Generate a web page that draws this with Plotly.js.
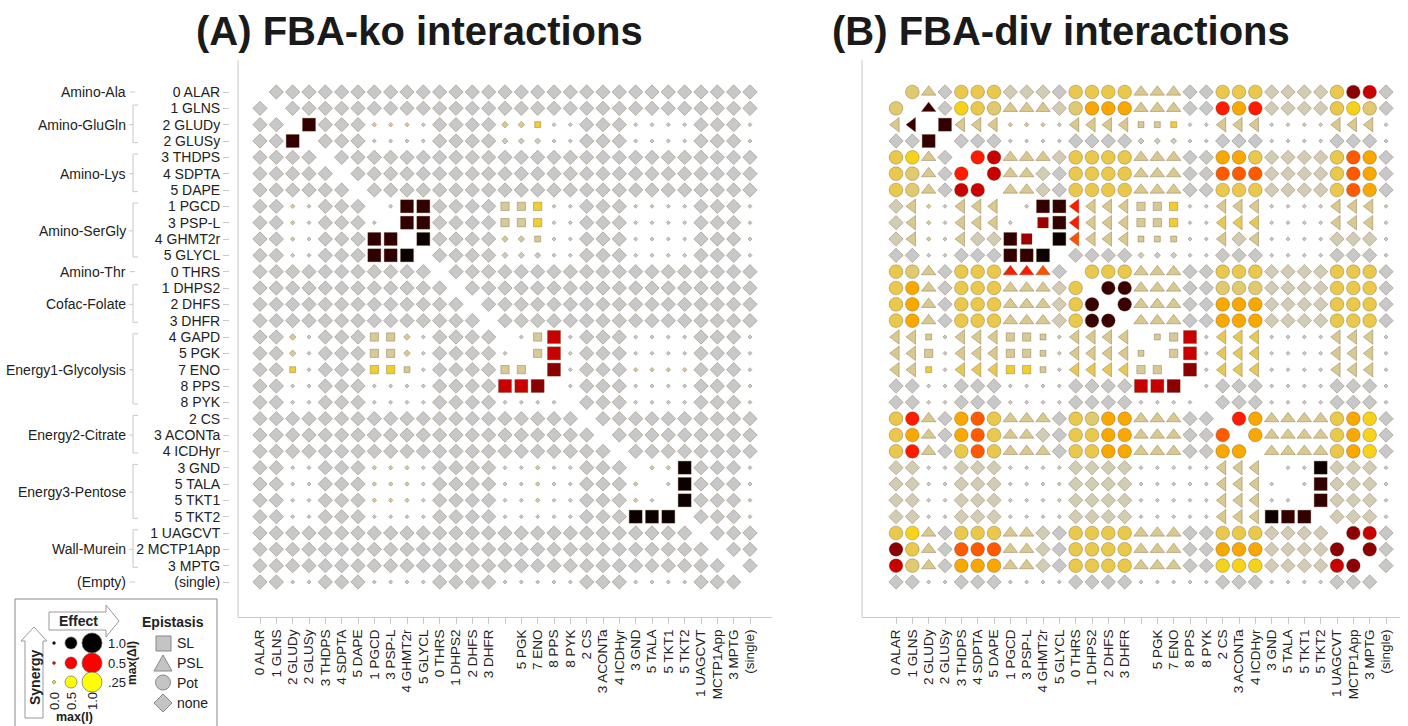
<!DOCTYPE html>
<html><head><meta charset="utf-8">
<script src="https://cdn.plot.ly/plotly-3.0.1.min.js"></script>
<style>html,body{margin:0;padding:0;background:#fff;} #chart{width:1408px;height:726px;}</style>
</head><body><div id="chart"></div>
<script>
// ---------- data ----------
const rowLabels = ['0 ALAR','1 GLNS','2 GLUDy','2 GLUSy','3 THDPS','4 SDPTA','5 DAPE','1 PGCD','3 PSP-L','4 GHMT2r','5 GLYCL','0 THRS','1 DHPS2','2 DHFS','3 DHFR','4 GAPD','5 PGK','7 ENO','8 PPS','8 PYK','2 CS','3 ACONTa','4 ICDHyr','3 GND','5 TALA','5 TKT1','5 TKT2','1 UAGCVT','2 MCTP1App','3 MPTG','(single)'];
const colLabels = ['0 ALAR','1 GLNS','2 GLUDy','2 GLUSy','3 THDPS','4 SDPTA','5 DAPE','1 PGCD','3 PSP-L','4 GHMT2r','5 GLYCL','0 THRS','1 DHPS2','2 DHFS','3 DHFR','','5 PGK','7 ENO','8 PPS','8 PYK','2 CS','3 ACONTa','4 ICDHyr','3 GND','5 TALA','5 TKT1','5 TKT2','1 UAGCVT','MCTP1App','3 MPTG','(single)'];
const groupNames = ['Amino-Ala','Amino-GluGln','Amino-Lys','Amino-SerGly','Amino-Thr','Cofac-Folate','Energy1-Glycolysis','Energy2-Citrate','Energy3-Pentose','Wall-Murein','(Empty)'];
const groupFirst = [0,1,4,7,11,12,15,20,23,27,30];
const groupLast  = [0,3,6,10,11,14,19,22,26,29,30];

// cell codes (one per column, spaces only separate column groups)
const gridKO = [
 "_ DDD DDD DDDD D DDD DDDDD DDD DDDD DDD D",
 "D _DD DDD DDDD D DDD DDDDD DDD DDDD DDD D",
 "D D_k DDD ooo. D DDD wwy.. DDD .... DDD .",
 "D Dk_ DDD .... D DDD vvv.. DDD .... DDD .",
 "D DDD _DD DDDD D DDD DDDDD DDD DDDD DDD D",
 "D DDD D_D DDDD D DDD DDDDD DDD DDDD DDD D",
 "D DDD DD_ DDDD D DDD DDDDD DDD DDDD DDD D",
 "D Do. DDD _.kk D DDD qqQ.. DDD .... DDD .",
 "D Do. DDD ._kk D DDD qqQ.. DDD .... DDD .",
 "D Do. DDD kk_K D DDD wws.. DDD .... DDD .",
 "D D.. DDD kkK_ D DDD vvv.. DDD .... DDD .",
 "D DDD DDD DDDD _ DDD DDDDD DDD DDDD DDD D",
 "D DDD DDD DDDD D _DD DDDDD DDD DDDD DDD D",
 "D DDD DDD DDDD D D_D DDDDD DDD DDDD DDD D",
 "D DDD DDD DDDD D DD_ DDDDD DDD DDDD DDD D",
 "D Dw. DDD qqw. D DDD _.qR. DDD .... DDD .",
 "D Dw. DDD qqw. D DDD ._qR. DDD .... DDD .",
 "D Dy. DDD QQs. D DDD qq_M. DDD oooo DDD .",
 "D D.. DDD .... D DDD RRM_. DDD .... DDD .",
 "D D.. DDD .... D DDD ...._ DDD .... DDD .",
 "D DDD DDD DDDD D DDD DDDDD _DD DDDD DDD D",
 "D DDD DDD DDDD D DDD DDDDD D_D DDDD DDD D",
 "D DDD DDD DDDD D DDD DDDDD DD_ DDDD DDD D",
 "D D.. DDD ooo. D DDD ..o.. DDD _ooK DDD .",
 "D D.. DDD ooo. D DDD ..o.. DDD o_.K DDD .",
 "D D.. DDD ooo. D DDD ..o.. DDD o._K DDD .",
 "D D.. DDD .... D DDD ..... DDD KKK_ DDD .",
 "D DDD DDD DDDD D DDD DDDDD DDD DDDD _DD D",
 "D DDD DDD DDDD D DDD DDDDD DDD DDDD D_D D",
 "D DDD DDD DDDD D DDD DDDDD DDD DDDD DD_ D",
 "D D.. DDD .... D DDD ..... DDD .... DDD _"
];
const gridDIV = [
 "_ cPD CCC TTTD C CCC PPPDD CCC TTTT CJH D",
 "c _XD YCc PPPT c OOO PPPDD rOr TTTT CYc D",
 "L Z_k LLL ooo. L LLL ssy.. LLL .... LLL .",
 "D Dk_ DDD .... D DDD vvv.. DDD .... DDD .",
 "C YPD _rH PPPT C CCC PPPDD OOC TTTT CFO D",
 "C cPD r_H PPTD C CCC PPPDD FFF TTTT CFO D",
 "C cPD HH_ PPTD C CCC PPPDD CCC TTTT CFO D",
 "T Lo. LLL _.kk E LLL qqQ.. LLL .... LLL .",
 "T Lo. LLL ._mk E LLL qqQ.. lll .... LLL .",
 "T Lo. LTT km_K e LLL sss.. LTL .... TTT .",
 "D D.. DDD kkK_ D DDD vvv.. DDD .... DDD .",
 "C cPD CCC AAaD _ CCC PPPDD CCC TTTT CCC D",
 "C OPD CCC PPPT C _BB PPPDD ccc TTTT CCC D",
 "C OPD CCC PPPT C B_B PPPDD OOO TTTT CCC D",
 "C OPD CCC PPPT C BB_ PPPDD OOO TTTT CCC D",
 "L Ls. LLL qqs. L LLL _sqR. lll .... LLL .",
 "L Lq. LLL qqs. L LLL s_qR. lll .... LLL .",
 "L Ly. lll QQs. l lll qq_M. lll .... LLL .",
 "D D.. DDD .... D DDD RRM_. DDD .... DDD .",
 "D D.. DDD .... D DDD ...._ DDD .... DDD .",
 "C rPD OFC PPPD C cOO PPPDD _rO PPPP COY D",
 "C OPD OFC PPTD C COO PPPDD F_O PPPP COY D",
 "C rPD CFC PPPD C COO PPPDD OO_ PPPP COY D",
 "T T.. TTT .... T TTT ..... LLL _..K TTT .",
 "T T.. TTT .... T TTT ..... LLL ._.k TTT .",
 "T T.. TTT .... T TTT ..... LLL .._k TTT .",
 "T T.. TTT .... T TTT ..... LLL Kkk_ TTT .",
 "C YPD CCC PPTD C CCC PPPDD CCC TTTT _JH D",
 "J CPD FFF PPTD C CCC PPPDD OOO TTTT J_J D",
 "H cPD OOO PPTD C CCC PPPDD YYY TTTT HJ_ D",
 "D D.. DDD .... D DDD ..... DDD .... DDD _"
];
// code -> epistasis class
const epistasisOf = {D:'none',T:'none','.':'none',o:'none',v:'none',w:'none',
  s:'SL',y:'SL',q:'SL',Q:'SL',K:'SL',k:'SL',M:'SL',m:'SL',R:'SL',
  P:'PSL',A:'PSL',a:'PSL',X:'PSL',L:'PSLr',l:'PSLr',E:'PSLr',e:'PSLr',Z:'PSLr',
  c:'Pot',C:'Pot',Y:'Pot',O:'Pot',F:'Pot',r:'Pot',H:'Pot',J:'Pot',B:'Pot'};
// code -> max(I)  (effect)
const effectOf = {D:1,T:1,'.':0,o:0.05,v:0.2,w:0.25,s:0.25,y:0.25,q:0.5,Q:0.5,m:0.75};
// code -> max(dI) (synergy)
const synergyOf = {D:0,'.':0,v:0.03,T:0.08,o:0.12,w:0.12,s:0.12,q:0.12,P:0.13,L:0.13,c:0.16,l:0.19,C:0.2,
  y:0.22,Q:0.23,Y:0.25,O:0.33,F:0.42,a:0.43,e:0.43,r:0.5,A:0.5,E:0.5,H:0.6,R:0.6,m:0.68,J:0.72,M:0.72,
  B:0.88,X:0.88,Z:0.88,k:0.9,K:1.0};

// ---------- scales ----------
const synergyScale = [[0,'#c8c8c8'],[0.08,'#d3ccb4'],[0.13,'#d9c98e'],[0.16,'#e0c96e'],[0.2,'#eac84c'],
  [0.25,'#f6d21a'],[0.33,'#f8a800'],[0.42,'#ff5a00'],[0.5,'#ff1a00'],[0.6,'#c80000'],[0.72,'#8b0000'],
  [0.88,'#3a0000'],[1,'#0d0000']];
const symbolOf = {none:'diamond',SL:'square',PSL:'triangle-up',PSLr:'triangle-left',Pot:'circle'};
const shapeFactor = {none:0.85,SL:1,PSL:0.97,PSLr:0.97,Pot:1.05};
function markerSize(cls, eff){ return (3.6 + 9.4*eff) * shapeFactor[cls]; }

function buildTrace(grid, xa){
  const x=[],y=[],sym=[],size=[],col=[];
  grid.forEach((row,i)=>{
    const cells=row.replace(/ /g,'');
    for(let j=0;j<cells.length;j++){
      const c=cells[j]; if(c==='_') continue;
      const cls=epistasisOf[c]; const eff=(c in effectOf)?effectOf[c]:1;
      x.push(j); y.push(i); sym.push(symbolOf[cls]); size.push(markerSize(cls,eff)); col.push(synergyOf[c]);
    }
  });
  return {type:'scatter',mode:'markers',x:x,y:y,xaxis:xa,yaxis:'y',hoverinfo:'skip',
    marker:{symbol:sym,size:size,color:col,cmin:0,cmax:1,colorscale:synergyScale,showscale:false,opacity:1,
      line:{width:0.8,color:'rgba(90,70,30,0.4)'}}};
}

// ---------- layout helpers ----------
const W=1408,H=726;
const px=v=>v/W, py=v=>1-v/H;
const idx=rowLabels.map((_,i)=>i);
const FONT='Liberation Sans, Arial, sans-serif';
const AX='#c8c8c8';

const xbase={tickmode:'array',tickvals:idx,ticktext:colLabels,tickangle:-90,showline:true,linecolor:AX,linewidth:1,
  ticks:'outside',ticklen:6,tickcolor:AX,showgrid:false,zeroline:false,anchor:'y',tickfont:{size:13.5,color:'#222'}};
const layout={width:W,height:H,margin:{l:0,r:0,t:0,b:0},paper_bgcolor:'#fff',plot_bgcolor:'#fff',showlegend:false,
  font:{family:FONT,color:'#222'},
  xaxis:Object.assign({},xbase,{domain:[px(238),px(772)],range:[-1.347,31.347]}),
  xaxis2:Object.assign({},xbase,{domain:[px(862),px(1400)],range:[-2.082,30.857]}),
  yaxis:{domain:[py(617),py(60)],range:[32.143,-1.959],anchor:'free',position:px(229),tickmode:'array',tickvals:idx,
    ticktext:rowLabels,ticks:'outside',ticklen:6,tickcolor:AX,showline:false,showgrid:false,zeroline:false,
    tickfont:{size:14,color:'#222'}},
  shapes:[],annotations:[]};

// panel frame lines
[238,862].forEach(x=>layout.shapes.push({type:'line',xref:'paper',yref:'paper',x0:px(x),x1:px(x),y0:py(60),y1:py(617),line:{color:AX,width:1}}));

// titles
layout.annotations.push({xref:'paper',yref:'paper',x:px(419),y:py(31),text:'(A) FBA-ko interactions',showarrow:false,
  font:{size:40,family:FONT,color:'#1a1a1a',weight:'bold'},xanchor:'center',yanchor:'middle'});
layout.annotations.push({xref:'paper',yref:'paper',x:px(1061),y:py(31),text:'(B) FBA-div interactions',showarrow:false,
  font:{size:40,family:FONT,color:'#1a1a1a',weight:'bold'},xanchor:'center',yanchor:'middle'});

// group headers with brackets
groupNames.forEach((g,k)=>{
  const a=groupFirst[k], b=groupLast[k], mid=(a+b)/2;
  layout.annotations.push({xref:'paper',yref:'y',x:px(128),y:mid,text:g,showarrow:false,xanchor:'right',yanchor:'middle',
    font:{size:14,color:'#222'}});
  if(a===b){
    layout.shapes.push({type:'line',xref:'paper',yref:'y',x0:px(130),x1:px(135),y0:mid,y1:mid,line:{color:AX,width:1}});
  } else {
    const t=a-0.2, bt=b+0.1;
    layout.shapes.push({type:'path',xref:'paper',yref:'y',
      path:`M ${px(138)},${t} L ${px(133)},${t} L ${px(133)},${bt} L ${px(138)},${bt}`,line:{color:AX,width:1}});
    layout.shapes.push({type:'line',xref:'paper',yref:'y',x0:px(129),x1:px(133),y0:mid,y1:mid,line:{color:AX,width:1}});
  }
});

// ---------- legend (layout decoration) ----------
const LG='#999';
layout.shapes.push({type:'rect',xref:'paper',yref:'paper',x0:px(15),x1:px(217),y0:py(735),y1:py(599),line:{color:'#888',width:1},fillcolor:'rgba(0,0,0,0)'});
const P=(pts)=>'M '+pts.map(p=>px(p[0])+','+py(p[1])).join(' L ')+' Z';
layout.shapes.push({type:'path',xref:'paper',yref:'paper',path:P([[49,612],[106,612],[106,605],[119,621],[106,637],[106,630],[49,630]]),line:{color:LG,width:1},fillcolor:'#fff'});
layout.shapes.push({type:'path',xref:'paper',yref:'paper',path:P([[25,718],[25,641],[21,641],[34,627],[47,641],[43,641],[43,718]]),line:{color:LG,width:1},fillcolor:'#fff'});
const legCols=[54,71,92], legDiam=[3,12,20], legRows=[643,663,682], legColors=['#000000','#ff0000','#ffff00'];
legRows.forEach((ry,r)=>legCols.forEach((cx,c)=>{
  const d=legDiam[c];
  layout.shapes.push({type:'circle',xref:'paper',yref:'paper',x0:px(cx-d/2),x1:px(cx+d/2),y0:py(ry+d/2),y1:py(ry-d/2),
    fillcolor:legColors[r],line:{color:'#555',width:0.6}});
}));
const legText=(x,y,t,o)=>layout.annotations.push(Object.assign({xref:'paper',yref:'paper',x:px(x),y:py(y),text:t,showarrow:false,
  xanchor:'left',yanchor:'middle',font:{size:14,color:'#222'}},o||{}));
legText(78,621,'Effect',{xanchor:'center',font:{size:14,color:'#222',weight:'bold'}});
legText(35,678,'Synergy',{xanchor:'center',textangle:-90,font:{size:14,color:'#222',weight:'bold'}});
legText(106,643,'1.0',{font:{size:13,color:'#222'}}); legText(106,663,'0.5',{font:{size:13,color:'#222'}}); legText(106,682,'.25',{font:{size:13,color:'#222'}});
legText(132,663,'max(ΔI)',{xanchor:'center',textangle:-90,font:{size:12,color:'#222',weight:'bold'}});
['0.0','0.5','1.0'].forEach((t,c)=>legText(legCols[c],701,t,{xanchor:'center',textangle:-90,font:{size:13,color:'#222'}}));
legText(74,717,'max(I)',{xanchor:'center',font:{size:12.5,color:'#222',weight:'bold'}});
legText(173,622,'Epistasis',{xanchor:'center',font:{size:14,color:'#222',weight:'bold'}});
const EG='#c4c4c4', EL='#888';
layout.shapes.push({type:'rect',xref:'paper',yref:'paper',x0:px(156),x1:px(171),y0:py(651),y1:py(636),fillcolor:EG,line:{color:EL,width:1}});
layout.shapes.push({type:'path',xref:'paper',yref:'paper',path:P([[154,671],[172,671],[163,655]]),fillcolor:EG,line:{color:EL,width:1}});
layout.shapes.push({type:'circle',xref:'paper',yref:'paper',x0:px(155.5),x1:px(170.5),y0:py(690),y1:py(675),fillcolor:EG,line:{color:EL,width:1}});
layout.shapes.push({type:'path',xref:'paper',yref:'paper',path:P([[163,694],[172,703],[163,712],[154,703]]),fillcolor:EG,line:{color:EL,width:1}});
legText(175,643,'SL'); legText(175,663,'PSL'); legText(175,683,'Pot'); legText(175,703,'none');

Plotly.newPlot('chart',[buildTrace(gridKO,'x'),buildTrace(gridDIV,'x2')],layout,{staticPlot:true});
</script></body></html>
